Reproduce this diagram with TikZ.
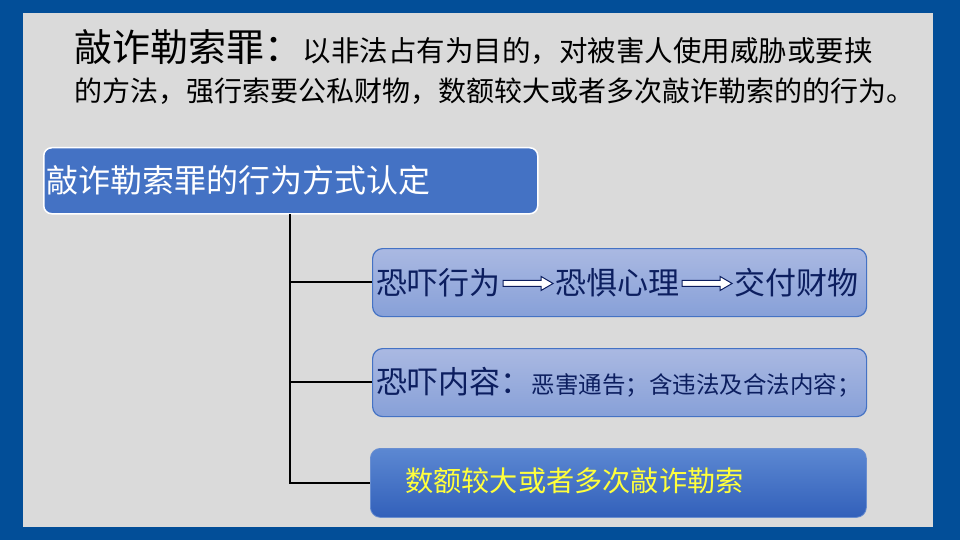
\documentclass[tikz,border=0pt]{standalone}
\usepackage{fontspec}
\setmainfont{Noto Sans CJK SC}
\definecolor{outerblue}{RGB}{2,78,152}
\definecolor{panelgray}{RGB}{218,218,218}
\definecolor{boxblue}{RGB}{68,114,196}
\definecolor{lighttop}{RGB}{170,185,226}
\definecolor{lightbot}{RGB}{135,160,216}
\definecolor{darktop}{RGB}{92,136,210}
\definecolor{darkbot}{RGB}{50,96,186}
\definecolor{navy}{RGB}{12,30,95}
\definecolor{yel}{RGB}{255,255,60}
\newcommand{\hollowarrow}{\hspace{2pt}\tikz[baseline={(0,0)},x=1pt,y=1pt,sharp corners]{\draw[line width=1pt,fill=white,line join=miter,sharp corners] (0,8) -- (38,8) -- (38,4) -- (50,11) -- (38,18) -- (38,14) -- (0,14) -- cycle;}\hspace{2pt}}
\begin{document}
\begin{tikzpicture}[x=1pt,y=-1pt,
  headbox/.style={draw=white,line width=1.5pt,fill=boxblue,rounded corners=8pt,minimum width=494pt,minimum height=66pt,inner sep=3pt,anchor=north west,text=white,font=\fontsize{32}{34}\selectfont,align=left},
  lightbox/.style={draw=boxblue,line width=1.2pt,top color=lighttop,bottom color=lightbot,rounded corners=10pt,minimum width=494pt,minimum height=68pt,inner sep=4pt,anchor=north west,text=navy,align=left},
  darkbox/.style={draw=boxblue!80,line width=0.8pt,top color=darktop,bottom color=darkbot,rounded corners=10pt,minimum width=496pt,minimum height=69pt,anchor=north west,text=yel},
  conn/.style={line width=2.2pt,black}
]
\useasboundingbox (0,0) rectangle (960,540);
\fill[outerblue] (0,0) rectangle (960,540);
\fill[panelgray] (23,13) rectangle (933,527);

\node[anchor=base west,inner sep=0pt,font=\fontsize{38}{40}\selectfont] (t1) at (74,62) {敲诈勒索罪：};
\node[anchor=base west,inner sep=0pt,font=\fontsize{28.5}{30}\selectfont] (t2) at (t1.base east) {以非法占有为目的，对被害人使用威胁或要挟};
\node[anchor=base west,inner sep=0pt,font=\fontsize{28}{30}\selectfont] (t3) at (74,102) {的方法，强行索要公私财物，数额较大或者多次敲诈勒索的的行为。};

\node[headbox,text width=488pt] (root) at (43,147) {敲诈勒索罪的行为方式认定};

\node[lightbox,text width=486pt] (b1) at (372,248) {\fontsize{31}{33}\selectfont 恐吓行为\hollowarrow 恐惧心理\hollowarrow 交付财物};
\node[lightbox,text width=486pt] (b2) at (372,348) {\fontsize{31}{33}\selectfont 恐吓内容：\fontsize{23.5}{26}\selectfont 恶害通告；含违法及合法内容；};
\node[darkbox] (b3) at (370,448) {};
\node[anchor=west,inner sep=0pt,text=yel,font=\fontsize{28.2}{30}\selectfont] (b3t) at (405,481) {数额较大或者多次敲诈勒索};

\coordinate (trunk) at (290,214);
\coordinate (j1) at (290,282);
\coordinate (j2) at (290,382);
\coordinate (j3) at (290,483);
\draw[conn] (trunk) -- (j3) -- (b3.west |- j3);
\draw[conn] (j1) -- (b1.west |- j1);
\draw[conn] (j2) -- (b2.west |- j2);
\end{tikzpicture}
\end{document}
